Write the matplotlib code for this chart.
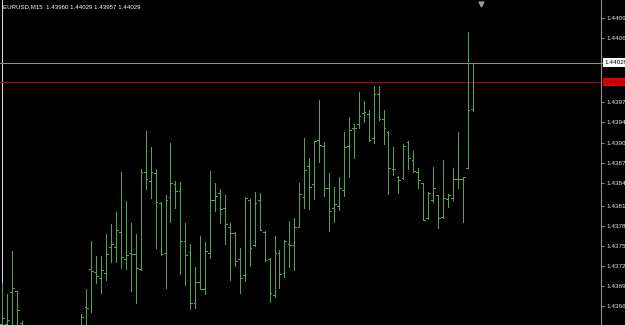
import numpy as np
import matplotlib
matplotlib.use("Agg")
from matplotlib import pyplot as plt
from matplotlib import transforms

nan=np.nan
symbol="EURUSD,M15"
# OHLC per M15 bar (bars 5..15 are below the visible window)
opens=[1.43639,1.43639,1.43687,1.43688,1.43640]+[nan]*11+[
    1.43632,1.43665,1.43721,1.43717,1.43708,1.43715,1.43754,1.43754,1.43776,1.43736,
    1.43745,1.43744,1.43721,1.43866,1.43852,1.43864,1.43820,1.43745,1.43829,1.43848,
    1.43837,1.43763,1.43747,1.43670,1.43702,1.43691,1.43745,1.43824,1.43834,1.43812,
    1.43784,1.43775,1.43736,1.43712,1.43824,1.43757,1.43824,1.43776,1.43736,1.43682,
    1.43745,1.43715,1.43758,1.43757,1.43784,1.43829,1.43875,1.43848,1.43914,1.43905,
    1.43842,1.43812,1.43815,1.43839,1.43905,1.43931,1.43937,1.43954,1.43952,1.43917,
    1.43982,1.43945,1.43925,1.43870,1.43858,1.43857,1.43911,1.43884,1.43866,1.43849,
    1.43797,1.43824,1.43832,1.43799,1.43826,1.43827,1.43855,1.43855,1.43872,1.43960]
highs=[1.43700,1.43684,1.43748,1.43688,1.43644]+[nan]*11+[
    1.43654,1.43691,1.43763,1.43741,1.43741,1.43773,1.43788,1.43806,1.43866,1.43823,
    1.43790,1.43773,1.43870,1.43927,1.43903,1.43870,1.43821,1.43832,1.43909,1.43852,
    1.43851,1.43790,1.43758,1.43724,1.43770,1.43761,1.43867,1.43849,1.43840,1.43832,
    1.43790,1.43776,1.43752,1.43829,1.43826,1.43836,1.43834,1.43778,1.43738,1.43770,
    1.43750,1.43764,1.43793,1.43797,1.43849,1.43917,1.43887,1.43912,1.43973,1.43911,
    1.43864,1.43843,1.43858,1.43925,1.43948,1.43937,1.43985,1.43972,1.43958,1.43994,
    1.43994,1.43958,1.43927,1.43903,1.43860,1.43908,1.43912,1.43897,1.43872,1.43849,
    1.43836,1.43873,1.43832,1.43884,1.43833,1.43872,1.43925,1.43858,1.44075,1.44029]
lows=[1.43630,1.43630,1.43630,1.43630,1.43630]+[nan]*11+[
    1.43630,1.43630,1.43657,1.43700,1.43685,1.43705,1.43732,1.43732,1.43723,1.43721,
    1.43688,1.43670,1.43720,1.43840,1.43827,1.43752,1.43742,1.43693,1.43791,1.43812,
    1.43714,1.43697,1.43662,1.43663,1.43691,1.43684,1.43738,1.43808,1.43790,1.43758,
    1.43705,1.43726,1.43685,1.43703,1.43726,1.43755,1.43779,1.43733,1.43672,1.43679,
    1.43693,1.43709,1.43724,1.43720,1.43784,1.43812,1.43811,1.43826,1.43881,1.43830,
    1.43778,1.43791,1.43809,1.43830,1.43858,1.43887,1.43931,1.43940,1.43912,1.43909,
    1.43943,1.43908,1.43833,1.43861,1.43834,1.43855,1.43870,1.43866,1.43842,1.43794,
    1.43796,1.43821,1.43782,1.43797,1.43814,1.43824,1.43842,1.43791,1.43872,1.43957]
closes=[1.43648,1.43645,1.43693,1.43660,1.43635]+[nan]*11+[
    1.43650,1.43663,1.43718,1.43711,1.43720,1.43744,1.43758,1.43779,1.43739,1.43742,
    1.43744,1.43723,1.43866,1.43855,1.43866,1.43821,1.43744,1.43824,1.43849,1.43837,
    1.43763,1.43742,1.43670,1.43702,1.43692,1.43748,1.43824,1.43830,1.43811,1.43788,
    1.43775,1.43733,1.43708,1.43827,1.43752,1.43820,1.43779,1.43735,1.43685,1.43745,
    1.43714,1.43763,1.43757,1.43784,1.43833,1.43869,1.43843,1.43912,1.43906,1.43842,
    1.43808,1.43818,1.43842,1.43903,1.43928,1.43931,1.43949,1.43955,1.43914,1.43982,
    1.43945,1.43931,1.43872,1.43870,1.43854,1.43905,1.43887,1.43867,1.43854,1.43794,
    1.43834,1.43842,1.43797,1.43827,1.43832,1.43855,1.43855,1.43858,1.43958,1.44029]
price_ticks=[1.44096,1.44066,1.43970,1.43940,1.43909,1.43879,1.43849,1.43815,
             1.43785,1.43755,1.43726,1.43696,1.43666]
bid=1.44029
level=1.44000

bar_col="#54a454"
x=np.arange(len(opens))
fig=plt.figure(figsize=(6.25,3.25),dpi=100,facecolor="black")
ax=fig.add_axes([0,0,601/625,1])
ax.set_facecolor("black")
ax.set_xlim(-0.404,120.89)
ax.set_ylim(1.436377,1.441223)

ax.axvline(0,color="#d8d8d8",lw=0.72,zorder=1,antialiased=False)
ax.axhline(bid,color="#8c8c8c",lw=0.72,zorder=1,antialiased=False)
ax.axhline(level,color="#b00000",lw=0.72,zorder=1,antialiased=False)

ax.vlines(x,lows,highs,color=bar_col,lw=0.72,antialiased=False,zorder=3)
ax.hlines(opens,x-0.35,x,color=bar_col,lw=0.72,antialiased=False,zorder=3)
ax.hlines(closes,x,x+0.35,color=bar_col,lw=0.72,antialiased=False,zorder=3)

for s in ["left","top","bottom"]:
    ax.spines[s].set_visible(False)
ax.spines["right"].set_color("#909090")
ax.spines["right"].set_linewidth(0.8)
ax.set_xticks([])
ax.yaxis.tick_right()
ax.set_yticks(price_ticks)
ax.set_yticklabels([f"{v:.5f}" for v in price_ticks],family="Liberation Sans")
ax.tick_params(axis="y",colors="#909090",labelcolor="#e6e6e6",labelsize=4.6,length=2.5,width=0.7,pad=1.5)

tr=transforms.blended_transform_factory(ax.transAxes,ax.transData)
ax.plot([1,1.04],[bid,bid],color="#8c8c8c",lw=0.72,transform=tr,clip_on=False)
ax.text(1.006,bid,f"{bid:.5f}",transform=tr,ha="left",va="center",fontsize=4.6,family="Liberation Sans",
        color="black",bbox=dict(facecolor="white",edgecolor="none",pad=1.2),clip_on=False)
ax.text(1.006,level,f"{level:.5f}",transform=tr,ha="left",va="center",fontsize=4.6,family="Liberation Sans",
        color="#8a0000",bbox=dict(facecolor="#e00000",edgecolor="none",pad=1.2),clip_on=False)

ax.plot([481/601],[1-3.5/325],marker="v",color="#9a9a9a",markersize=3.5,transform=ax.transAxes,clip_on=False)
fig.text(3/625,1-7/325,f"{symbol}  {opens[-1]:.5f} {highs[-1]:.5f} {lows[-1]:.5f} {closes[-1]:.5f}",
         color="white",fontsize=4.4,family="Liberation Sans",va="center",ha="left")

fig.savefig("out.png",dpi=100,facecolor="black")
